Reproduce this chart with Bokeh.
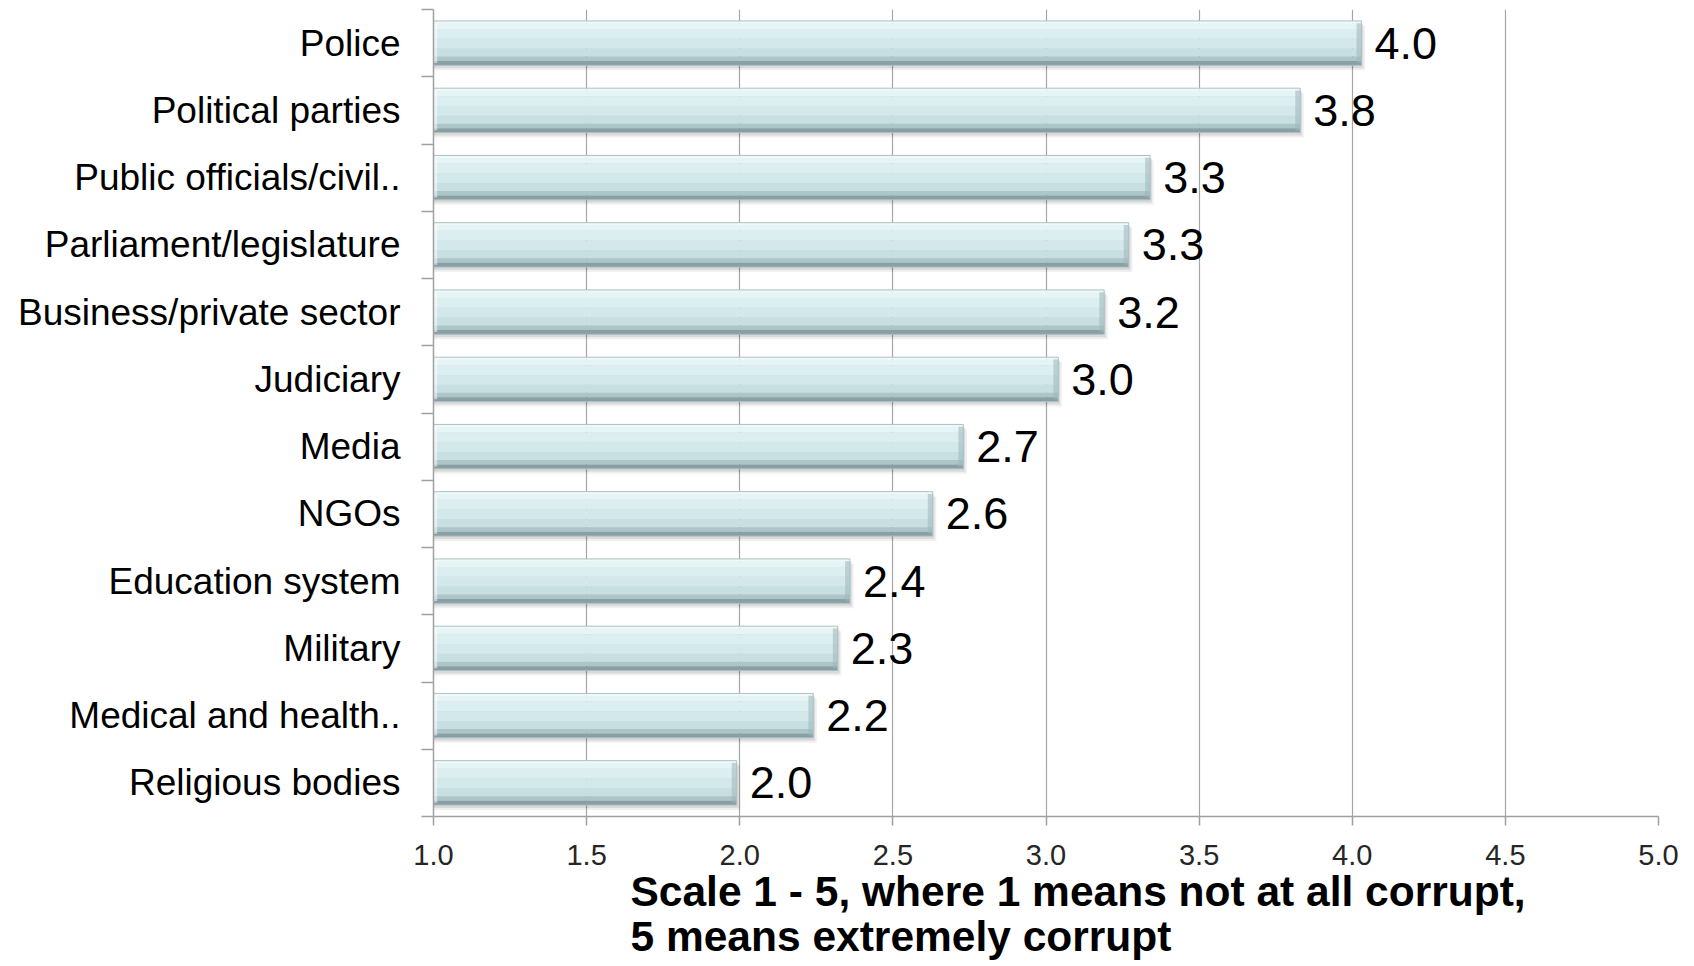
import numpy as np
from bokeh.plotting import figure
from bokeh.models import FixedTicker, NumeralTickFormatter, Range1d, Title, ColumnDataSource
from bokeh.core.properties import value
from bokeh.embed import file_html
from bokeh.resources import INLINE

# ---- data (top to bottom as in the chart) ----
categories = ["Police", "Political parties", "Public officials/civil..", "Parliament/legislature",
              "Business/private sector", "Judiciary", "Media", "NGOs", "Education system",
              "Military", "Medical and health..", "Religious bodies"]
scores = [4.03, 3.83, 3.34, 3.27, 3.19, 3.04, 2.73, 2.63, 2.36, 2.32, 2.24, 1.99]
score_labels = ["4.0", "3.8", "3.3", "3.3", "3.2", "3.0", "2.7", "2.6", "2.4", "2.3", "2.2", "2.0"]
x_ticks = [1.0, 1.5, 2.0, 2.5, 3.0, 3.5, 4.0, 4.5, 5.0]
axis_title_lines = ["Scale 1 - 5, where 1 means not at all corrupt,", "5 means extremely corrupt"]

n = len(categories)
ypos = np.arange(n)[::-1].astype(float)  # Police at top
vals = np.array(scores)

FONT = "Liberation Sans"

p = figure(width=1694, height=966, output_backend="svg", toolbar_location=None,
           x_range=Range1d(1.0, 5.0), y_range=Range1d(-0.5, n - 0.5),
           min_border_left=433, min_border_right=36, min_border_top=9, min_border_bottom=150)
p.outline_line_color = None
p.background_fill_color = "white"
p.border_fill_color = "white"

# grid
p.ygrid.grid_line_color = None
p.xgrid.grid_line_color = "#a6a6a6"
p.xgrid.grid_line_width = 1.2

# x axis
p.xaxis.ticker = FixedTicker(ticks=x_ticks)
p.xaxis.formatter = NumeralTickFormatter(format="0.0")
p.xaxis.axis_line_color = "#a0a0a0"
p.xaxis.axis_line_width = 1.5
p.xaxis.major_tick_line_color = "#a0a0a0"
p.xaxis.major_tick_line_width = 1.5
p.xaxis.major_tick_out = 9
p.xaxis.major_tick_in = 0
p.xaxis.minor_tick_line_color = None
p.xaxis.major_label_text_font = FONT
p.xaxis.major_label_text_font_size = "29px"
p.xaxis.major_label_text_color = "#262626"
p.xaxis.major_label_standoff = 19

# y axis
boundaries = list(np.arange(-0.5, n, 1.0))
p.yaxis.ticker = FixedTicker(ticks=list(ypos), minor_ticks=boundaries)
p.yaxis.major_label_overrides = {float(y): c for y, c in zip(ypos, categories)}
p.yaxis.axis_line_color = "#a0a0a0"
p.yaxis.axis_line_width = 1.5
p.yaxis.major_tick_line_color = None
p.yaxis.major_tick_out = 0
p.yaxis.major_tick_in = 0
p.yaxis.minor_tick_line_color = "#a0a0a0"
p.yaxis.minor_tick_line_width = 1.5
p.yaxis.minor_tick_out = 12
p.yaxis.minor_tick_in = 0
p.yaxis.major_label_text_font = FONT
p.yaxis.major_label_text_font_size = "37px"
p.yaxis.major_label_text_color = "#000000"
p.yaxis.major_label_standoff = 21

# ---- bars with bevel-like gradient ----
h = 0.66
# soft shadow
p.hbar(y=ypos - 0.075, height=h, left=1.0, right=vals + 0.012, fill_color="black", fill_alpha=0.06, line_color=None)
p.hbar(y=ypos - 0.045, height=h, left=1.0, right=vals + 0.006, fill_color="black", fill_alpha=0.09, line_color=None)

strips = [
    (0.00, 0.05, "#f0f9fa"),
    (0.05, 0.18, "#e6f4f5"),
    (0.18, 0.40, "#dbeef0"),
    (0.40, 0.62, "#d2e8eb"),
    (0.62, 0.80, "#c8dfe2"),
    (0.80, 0.90, "#acc5c8"),
    (0.90, 1.00, "#88a0a3"),
]
for f0, f1, col in strips:
    yc = ypos + h / 2 - (f0 + f1) / 2 * h
    p.hbar(y=yc, height=(f1 - f0) * h, left=1.0, right=vals, fill_color=col, line_color=None)

# right bevel (darker end) and light left bevel
p.hbar(y=ypos, height=h * 0.9, left=vals - 0.016, right=vals, fill_color="#9db6b9", fill_alpha=0.55, line_color=None)
p.hbar(y=ypos, height=h * 0.9, left=1.0, right=1.012, fill_color="#ffffff", fill_alpha=0.5, line_color=None)
# outline
p.hbar(y=ypos, height=h, left=1.0, right=vals, fill_color=None, line_color="#a9c0c3", line_width=1)

# value labels
src = ColumnDataSource(dict(x=vals, y=ypos, t=score_labels))
p.text(x="x", y="y", text="t", source=src, x_offset=13, text_baseline="middle", text_align="left",
       text_font=value(FONT), text_font_size="45px", text_color="#000000")

# axis title: two left-aligned bold lines below the x axis
for line in axis_title_lines:
    p.add_layout(Title(text=line, align="left", offset=197, standoff=-4,
                       text_font=FONT, text_font_size="42.5px",
                       text_font_style="bold", text_color="#000000"), "below")

open("out.html", "w").write(file_html(p, INLINE))
